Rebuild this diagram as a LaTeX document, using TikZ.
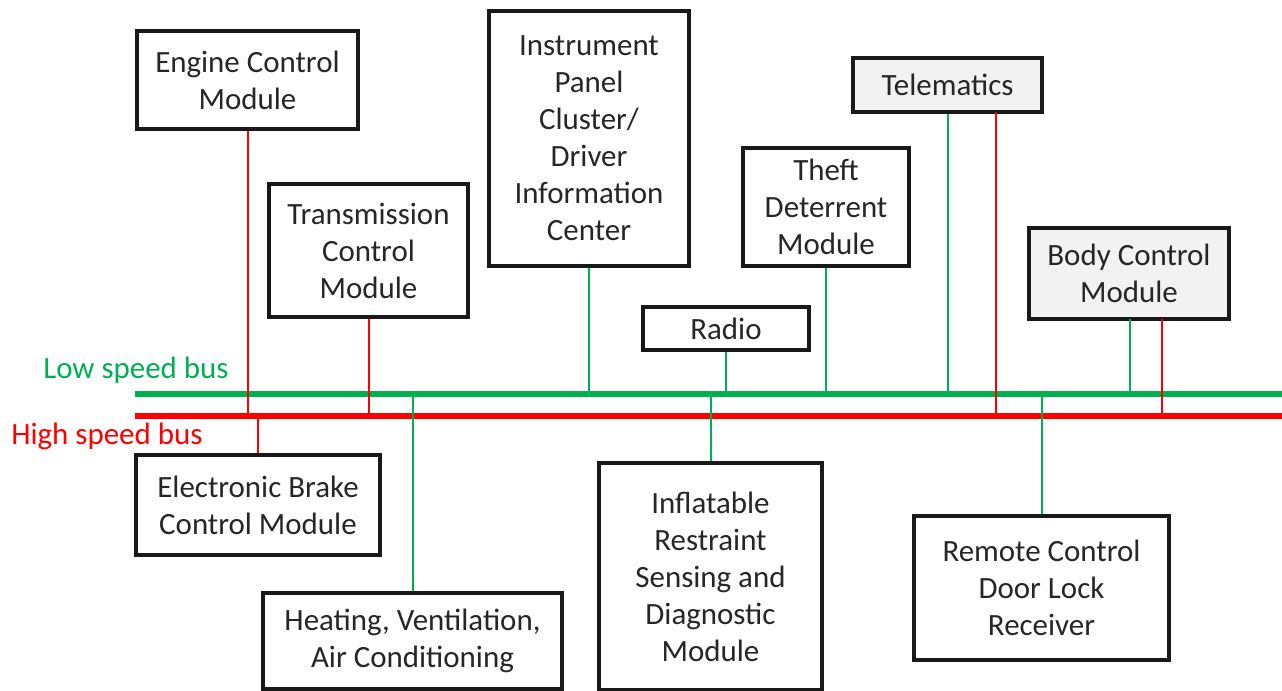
\documentclass[tikz,border=0pt]{standalone}
\usepackage{fontspec}
\setmainfont{Carlito}
\definecolor{busgreen}{RGB}{0,176,80}
\definecolor{busred}{RGB}{255,0,0}
\definecolor{boxgray}{RGB}{242,242,242}
\definecolor{txt}{RGB}{38,38,38}
\begin{document}
\begin{tikzpicture}[x=0.75pt,y=-0.75pt,
  box/.style={draw=black!90, line width=2.4pt, align=center, inner sep=0pt,
    font=\fontsize{23.2}{27.75}\selectfont, text=txt, fill=white},
  gbox/.style={box, fill=boxgray},
  gline/.style={draw=busgreen, line width=1.5pt},
  rline/.style={draw=busred, line width=1.5pt},
  gbus/.style={draw=busgreen, line width=4pt},
  rbus/.style={draw=busred, line width=4pt},
  lbl/.style={font=\fontsize{23.2}{27.75}\selectfont, inner sep=0pt, anchor=base west}]
\useasboundingbox (0,0) rectangle (1282,690);

% buses
\coordinate (lsL) at (135,394);
\coordinate (lsR) at (1290,394);
\coordinate (hsL) at (135,416);
\coordinate (hsR) at (1290,416);
\draw[gbus] (lsL) -- (lsR);
\draw[rbus] (hsL) -- (hsR);

\node[lbl, text=busgreen] (lslbl) at (43,378) {Low speed bus};
\node[lbl, text=busred] (hslbl) at (11,444) {High speed bus};

% boxes
\node[box, minimum width=165.75pt, minimum height=73.5pt] (ecm) at (247.5,80) {Engine Control\\Module};
\node[box, minimum width=149.25pt, minimum height=99.75pt] (tcm) at (368.5,250.5) {Transmission\\Control\\Module};
\node[box, minimum width=150pt, minimum height=191.25pt] (ipc) at (589,138.5) {Instrument\\Panel\\Cluster/\\Driver\\Information\\Center};
\node[box, minimum width=124.5pt, minimum height=88.5pt] (tdm) at (826,207) {Theft\\Deterrent\\Module};
\node[gbox, minimum width=141.75pt, minimum height=40.5pt] (tel) at (947.5,85) {Telematics};
\node[gbox, minimum width=150pt, minimum height=68.25pt] (bcm) at (1129,273.5) {Body Control\\Module};
\node[box, minimum width=124.5pt, minimum height=32.25pt] (radio) at (726,328.5) {Radio};
\node[box, minimum width=183pt, minimum height=75pt] (ebcm) at (258,505) {Electronic Brake\\Control Module};
\node[box, minimum width=224.25pt, minimum height=72pt] (hvac) at (412.5,641) {Heating, Ventilation,\\Air Conditioning};
\node[box, minimum width=167.25pt, minimum height=170.25pt] (irsdm) at (710.5,576.5) {Inflatable\\Restraint\\Sensing and\\Diagnostic\\Module};
\node[box, minimum width=191.25pt, minimum height=108pt] (rcdl) at (1041.5,588) {Remote Control\\Door Lock\\Receiver};

% connectors (upper modules)
\draw[rline] (ecm.south) -- (ecm.south |- hsL);
\draw[rline] (tcm.south) -- (tcm.south |- hsL);
\draw[gline] (ipc.south) -- (ipc.south |- lsL);
\draw[gline] (radio.south) -- (radio.south |- lsL);
\draw[gline] (tdm.south) -- (tdm.south |- lsL);
\draw[gline] (tel.south) -- (tel.south |- lsL);
\coordinate (telr) at (996,112);
\draw[rline] (telr) -- (telr |- hsL);
\coordinate (bcmg) at (1130,319);
\coordinate (bcmr) at (1162,319);
\draw[gline] (bcmg) -- (bcmg |- lsL);
\draw[rline] (bcmr) -- (bcmr |- hsL);

% connectors (lower modules)
\draw[rline] (ebcm.north) -- (ebcm.north |- hsL);
\draw[gline] (hvac.north) -- (hvac.north |- lsL);
\draw[gline] (irsdm.north) -- (irsdm.north |- lsL);
\draw[gline] (rcdl.north) -- (rcdl.north |- lsL);
\end{tikzpicture}
\end{document}
